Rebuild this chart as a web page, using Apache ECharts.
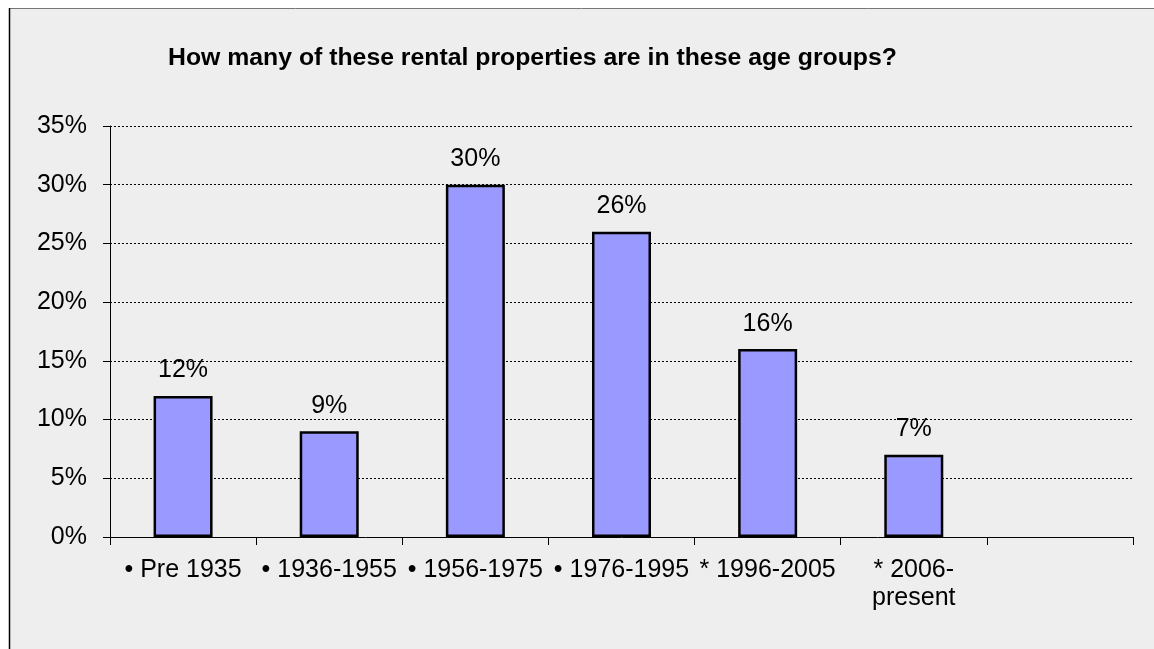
<!DOCTYPE html>
<html>
<head>
<meta charset="utf-8">
<script src="https://cdn.jsdelivr.net/npm/echarts@6/dist/echarts.min.js"></script>
<style>
  html, body { margin: 0; padding: 0; background: #ffffff; }
  #chart { width: 1154px; height: 649px; }
</style>
</head>
<body>
<div id="chart"></div>
<script>
// Age groups of rental properties (last slot left empty on purpose)
const categories = ['• Pre 1935', '• 1936-1955', '• 1956-1975', '• 1976-1995', '* 1996-2005', '* 2006-\npresent', ''];
// Share of properties in each age group, percent
const shares = [12, 9, 30, 26, 16, 7, null];
// Value axis ticks, percent
const yMin = 0, yMax = 35, yStep = 5;

const FONT = '"Liberation Sans", Arial, sans-serif';
const chart = echarts.init(document.getElementById('chart'));

chart.setOption({
  backgroundColor: '#ffffff',
  animation: false,
  graphic: [
    { type: 'rect', z: -10, shape: { x: 10, y: 9, width: 1144, height: 640 }, style: { fill: '#eeeeee' } },
    { type: 'line', z: -9, shape: { x1: 9, y1: 8.5, x2: 1154, y2: 8.5 }, style: { stroke: '#777777', lineWidth: 1 } },
    { type: 'line', z: -9, shape: { x1: 9.5, y1: 8, x2: 9.5, y2: 649 }, style: { stroke: '#000000', lineWidth: 1.5 } }
  ],
  title: {
    text: 'How many of these rental properties are in these age groups?',
    left: 163,
    top: 41,
    textStyle: { fontFamily: FONT, fontSize: 24.8, fontWeight: 'bold', color: '#000000' }
  },
  grid: { left: 110, right: 21, top: 126, bottom: 112, containLabel: false },
  xAxis: {
    type: 'category',
    data: categories,
    axisLine: { lineStyle: { color: '#000000', width: 1 } },
    axisTick: { show: true, length: 8, lineStyle: { color: '#000000' } },
    axisLabel: {
      interval: 0,
      hideOverlap: false,
      margin: 19,
      color: '#000000',
      fontFamily: FONT,
      fontSize: 25,
      lineHeight: 28
    },
    splitLine: { show: false }
  },
  yAxis: {
    type: 'value',
    min: yMin,
    max: yMax,
    interval: yStep,
    axisLine: { show: true, lineStyle: { color: '#000000', width: 1 } },
    axisTick: { show: true, length: 7, lineStyle: { color: '#000000' } },
    axisLabel: {
      margin: 23,
      color: '#000000',
      fontFamily: FONT,
      fontSize: 25,
      formatter: v => v + '%'
    },
    splitLine: { show: true, lineStyle: { color: '#000000', type: [2, 2], width: 1 } }
  },
  series: [{
    type: 'bar',
    data: shares,
    barWidth: 59,
    itemStyle: { color: '#9999ff', borderColor: '#000000', borderWidth: 2.5 },
    label: {
      show: true,
      position: 'top',
      distance: 13,
      color: '#000000',
      fontFamily: FONT,
      fontSize: 25,
      formatter: p => p.value + '%'
    }
  }]
});
</script>
</body>
</html>
